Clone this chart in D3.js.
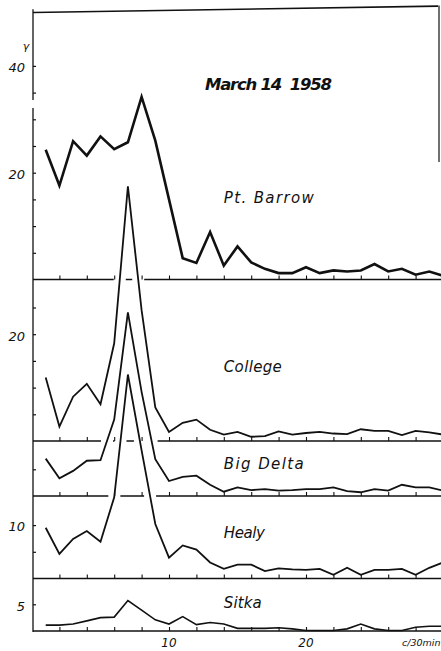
<!DOCTYPE html>
<html>
<head>
<meta charset="utf-8">
<script src="https://cdn.jsdelivr.net/npm/d3@7"></script>
<style>
  body { margin: 0; background: #fff; }
  svg { display: block; }
  text { fill: #111; font-family: "DejaVu Sans", sans-serif; font-style: italic; }
</style>
</head>
<body>
<svg id="chart" width="441" height="651"></svg>
<script>
// Spectral amplitude per frequency step (c/30min), one series per station
const steps = d3.range(1, 31);
const ptBarrow = [24.3, 17.6, 25.9, 23.2, 26.8, 24.4, 25.7, 34.2, 26.0, 15.0, 4.0, 3.1, 8.9, 2.6, 6.2, 3.2, 2.0, 1.2, 1.2, 2.3, 1.2, 1.7, 1.5, 1.7, 2.9, 1.5, 2.0, 0.9, 1.5, 0.7];
const college  = [11.9, 2.7, 8.3, 10.7, 6.9, 18.3, 47.7, 24.5, 6.3, 1.7, 3.4, 4.0, 2.1, 1.2, 1.7, 0.8, 0.9, 1.8, 1.2, 1.5, 1.7, 1.4, 1.3, 2.2, 1.9, 1.9, 1.1, 1.9, 1.6, 1.2];
const bigDelta = [7.0, 3.3, 4.7, 6.6, 6.7, 14.3, 34.4, 19.5, 6.9, 2.8, 3.6, 3.8, 2.1, 0.8, 1.6, 1.1, 1.3, 1.0, 1.1, 1.3, 1.3, 1.6, 0.9, 0.7, 1.3, 1.0, 2.1, 1.6, 1.6, 1.0];
const healy    = [9.5, 4.6, 7.4, 8.9, 6.9, 15.2, 38.2, 24.0, 10.2, 3.9, 6.2, 5.4, 3.0, 1.8, 2.6, 2.6, 1.4, 1.9, 1.7, 1.6, 1.8, 0.7, 2.0, 0.7, 1.6, 1.6, 1.8, 0.7, 2.0, 3.0];
const sitka    = [1.1, 1.1, 1.3, 1.9, 2.5, 2.6, 5.7, 3.9, 2.1, 1.3, 2.7, 1.2, 1.6, 1.3, 0.5, 0.5, 0.5, 0.6, 0.4, 0.1, 0.1, 0.1, 0.4, 1.3, 0.4, 0.1, 0.1, 0.7, 0.9, 0.9];

const stations = ["Pt. Barrow", "College", "Big Delta", "Healy", "Sitka"];
const series = [ptBarrow, college, bigDelta, healy, sitka];

// Y ticks per station panel and the ones that carry a label
const yTicks = [[5, 10, 15, 20, 25, 30, 35, 40], [5, 10, 15, 20, 25], [5], [5, 10], [5]];
const yTickLabels = [[20, 40], [20], [], [10], [5]];
const xTicks = d3.range(2, 30, 2);
const xTickLabels = [10, 20];
const title = "March 14  1958";
const xUnit = "c/30min";
const yUnit = "γ";

// ---- layout ----
const svg = d3.select("#chart");
const ink = "#111";
const pxPerUnit = 5.34;
const baselines = [279.5, 441, 496, 578.5, 631];
const axisX = 33;
const x = d3.scaleLinear().domain([0, 30]).range([32, 443]);
const yScales = baselines.map(b => d3.scaleLinear().domain([0, 10]).range([b, b - 10 * pxPerUnit]));
const lineWidths = [2.6, 1.8, 1.8, 1.8, 1.6];

// frame: top rule and right edge
const y0 = yScales[0];
svg.append("line")
  .attr("x1", axisX).attr("y1", y0(50))
  .attr("x2", 438).attr("y2", y0(51.2))
  .attr("stroke", ink).attr("stroke-width", 1.6);
svg.append("line")
  .attr("x1", 439).attr("y1", y0(51.3))
  .attr("x2", 439).attr("y2", y0(22))
  .attr("stroke", ink).attr("stroke-width", 1.2);

// vertical axis (with the small break near the top)
svg.append("line")
  .attr("x1", axisX).attr("x2", axisX)
  .attr("y1", y0(50.6)).attr("y2", y0(33.6))
  .attr("stroke", ink).attr("stroke-width", 1.3);
svg.append("line")
  .attr("x1", axisX).attr("x2", axisX)
  .attr("y1", y0(32.1)).attr("y2", baselines[4] + 1)
  .attr("stroke", ink).attr("stroke-width", 1.3);

// y ticks and labels per panel
yScales.forEach((ys, p) => {
  const g = svg.append("g").attr("transform", `translate(${axisX},0)`)
    .call(d3.axisLeft(ys)
      .tickValues(yTicks[p])
      .tickSizeInner(-3).tickSizeOuter(0).tickPadding(8)
      .tickFormat(d => yTickLabels[p].includes(d) ? d : ""));
  g.select(".domain").remove();
  g.selectAll("line").attr("stroke", ink).attr("stroke-width", 1.2);
  g.selectAll("text")
    .attr("font-family", "DejaVu Sans, sans-serif")
    .attr("font-style", "italic")
    .attr("font-size", 13)
    .attr("fill", ink)
    .attr("dy", "0.45em");
});

// unit label at the top of the y axis
svg.append("text")
  .attr("x", 26).attr("y", y0(43))
  .attr("text-anchor", "middle")
  .attr("font-size", 11)
  .text(yUnit);

// baselines with white breaks where lower curves pass through
const gapHalf = 6;
baselines.forEach((b, p) => {
  const cuts = [];
  for (let q = p + 1; q < series.length; q++) {
    const ys = yScales[q];
    for (let i = 0; i < steps.length - 1; i++) {
      const ya = ys(series[q][i]), yb = ys(series[q][i + 1]);
      if ((ya - b) * (yb - b) < 0) {
        const t = (ya - b) / (ya - yb);
        cuts.push(x(steps[i]) + t * (x(steps[i + 1]) - x(steps[i])));
      }
    }
  }
  cuts.sort((a, c) => a - c);
  const segs = [];
  let start = axisX;
  cuts.forEach(c => {
    if (c - gapHalf > start) segs.push([start, c - gapHalf]);
    start = Math.max(start, c + gapHalf);
  });
  segs.push([start, 441]);
  svg.append("g").selectAll("line").data(segs).join("line")
    .attr("x1", d => d[0]).attr("x2", d => d[1])
    .attr("y1", b).attr("y2", b)
    .attr("stroke", ink).attr("stroke-width", 1.5);

  // frequency ticks on the baseline
  const g = svg.append("g").attr("transform", `translate(0,${b})`)
    .call(d3.axisTop(x).tickValues(xTicks).tickSize(4).tickFormat(""));
  g.select(".domain").remove();
  g.selectAll("line").attr("stroke", ink).attr("stroke-width", 1.1);
});

// station curves
const line = d3.line().x((d, i) => x(steps[i]));
series.forEach((vals, p) => {
  const ys = yScales[p];
  svg.append("path")
    .datum(vals)
    .attr("d", line.y(d => ys(d)))
    .attr("fill", "none")
    .attr("stroke", ink)
    .attr("stroke-width", lineWidths[p])
    .attr("stroke-linejoin", "miter")
    .attr("stroke-miterlimit", 6);
});

// station names
const labelX = x(14.0);
const labelOffsets = [-77, -69, -27, -41, -23];
const labelWidths = [90, 58, 80, 41, 38];
stations.forEach((s, p) => {
  svg.append("text")
    .attr("x", labelX).attr("y", baselines[p] + labelOffsets[p])
    .attr("font-size", 15)
    .attr("textLength", labelWidths[p])
    .attr("lengthAdjust", "spacing")
    .text(s);
});

// title
svg.append("text")
  .attr("x", 205).attr("y", 90)
  .attr("font-family", "Liberation Sans, Arial, sans-serif")
  .attr("font-weight", "bold")
  .attr("font-size", 16.5)
  .attr("textLength", 127)
  .attr("lengthAdjust", "spacing")
  .style("white-space", "pre")
  .text(title);

// frequency axis labels
svg.append("g").selectAll("text").data(xTickLabels).join("text")
  .attr("x", d => x(d)).attr("y", 647)
  .attr("text-anchor", "middle")
  .attr("font-size", 12)
  .text(d => d);
svg.append("text")
  .attr("x", 402).attr("y", 646)
  .attr("font-size", 9.5)
  .text(xUnit);
</script>
</body>
</html>
